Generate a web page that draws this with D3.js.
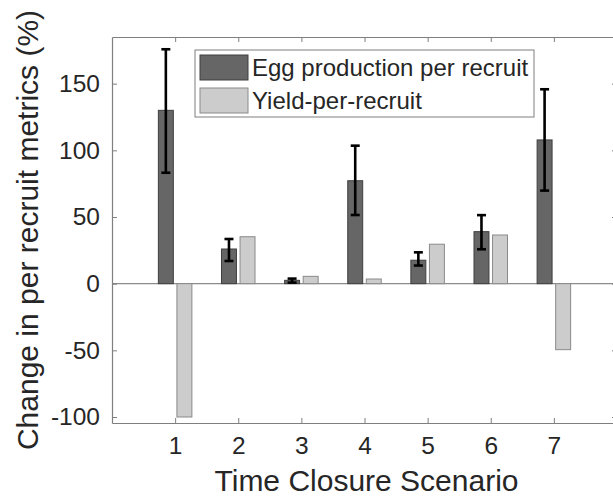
<!DOCTYPE html>
<html>
<head>
<meta charset="utf-8">
<script src="https://cdn.jsdelivr.net/npm/d3@7"></script>
<style>
  html, body { margin: 0; padding: 0; background: #fff; }
  svg { display: block; }
  text { font-family: "Liberation Sans", Arial, Helvetica, sans-serif; fill: #262626; }
</style>
</head>
<body>
<svg id="chart" width="613" height="497"></svg>
<script>
// Per-recruit metric changes for each time-closure scenario (%)
const scenarios = [1, 2, 3, 4, 5, 6, 7];
const eggValues = [130, 26, 2.5, 77.2, 17.6, 39, 107.8];
const eggLow    = [83.2, 17, 0.8, 51.5, 13.6, 25.8, 69.8];
const eggHigh   = [175.8, 33.5, 3.8, 103.5, 23.5, 51.4, 145.8];
const yieldValues = [-100, 35.2, 5.5, 3.5, 29.6, 36.5, -49.5];
const seriesNames = ["Egg production per recruit", "Yield-per-recruit"];
const yTicks = [-100, -50, 0, 50, 100, 150];
const xTicks = [1, 2, 3, 4, 5, 6, 7];

const svg = d3.select("#chart");
const plotLeft = 112, plotRight = 617, plotTop = 37, plotBottom = 423;

const x = d3.scaleLinear().domain([0, 8]).range([plotLeft, plotRight]);
const y = d3.scaleLinear().domain([-104.5, 185]).range([plotBottom, plotTop]);

const axisColor = "#7f7f7f";
const eggFill = "#666666", eggStroke = "#3f3f3f";
const yieldFill = "#cccccc", yieldStroke = "#8a8a8a";

// bar geometry in data units
const barW = 0.237;
const offset = 0.147;

// zero reference line
svg.append("line")
  .attr("x1", plotLeft).attr("x2", plotRight)
  .attr("y1", y(0)).attr("y2", y(0))
  .attr("stroke", "#8c8c8c").attr("stroke-width", 1.2);

const rows = scenarios.map((s, i) => ({
  s, egg: eggValues[i], lo: eggLow[i], hi: eggHigh[i], yld: yieldValues[i]
}));

// egg production bars
svg.append("g").selectAll("rect").data(rows).join("rect")
  .attr("x", d => x(d.s - offset - barW / 2))
  .attr("width", d => x(d.s - offset + barW / 2) - x(d.s - offset - barW / 2))
  .attr("y", d => y(Math.max(0, d.egg)))
  .attr("height", d => Math.abs(y(d.egg) - y(0)))
  .attr("fill", eggFill).attr("stroke", eggStroke).attr("stroke-width", 1);

// yield bars
svg.append("g").selectAll("rect").data(rows).join("rect")
  .attr("x", d => x(d.s + offset - barW / 2))
  .attr("width", d => x(d.s + offset + barW / 2) - x(d.s + offset - barW / 2))
  .attr("y", d => y(Math.max(0, d.yld)))
  .attr("height", d => Math.abs(y(d.yld) - y(0)))
  .attr("fill", yieldFill).attr("stroke", yieldStroke).attr("stroke-width", 1);

// error bars on egg production
const cap = 4.5;
const eb = svg.append("g").attr("stroke", "#000").attr("stroke-width", 2.6);
rows.forEach(d => {
  const cx = x(d.s - offset);
  eb.append("line").attr("x1", cx).attr("x2", cx).attr("y1", y(d.lo)).attr("y2", y(d.hi));
  eb.append("line").attr("x1", cx - cap).attr("x2", cx + cap).attr("y1", y(d.lo)).attr("y2", y(d.lo));
  eb.append("line").attr("x1", cx - cap).attr("x2", cx + cap).attr("y1", y(d.hi)).attr("y2", y(d.hi));
});

// axes box (ticks pointing inward on all four sides)
const tickLen = 5;
const plainNumber = d => String(d);   // keep a plain hyphen for negatives
const bottomAxis = d3.axisBottom(x).tickValues(xTicks).tickSizeInner(-tickLen).tickSizeOuter(0).tickPadding(14).tickFormat(plainNumber);
const topAxis = d3.axisTop(x).tickValues(xTicks).tickSizeInner(-tickLen).tickSizeOuter(0).tickFormat("");
const leftAxis = d3.axisLeft(y).tickValues(yTicks).tickSizeInner(-tickLen).tickSizeOuter(0).tickPadding(12).tickFormat(plainNumber);
const rightAxis = d3.axisRight(y).tickValues(yTicks).tickSizeInner(-tickLen).tickSizeOuter(0).tickFormat("");

function styleAxis(g) {
  g.select(".domain").attr("stroke", axisColor).attr("stroke-width", 1.2);
  g.selectAll(".tick line").attr("stroke", axisColor).attr("stroke-width", 1);
  g.selectAll(".tick text").attr("fill", "#262626")
    .style("font-family", '"Liberation Sans", Arial, sans-serif').style("font-size", "24.5px");
}

svg.append("g").attr("transform", `translate(0,${plotBottom})`).call(bottomAxis).call(styleAxis);
svg.append("g").attr("transform", `translate(0,${plotTop})`).call(topAxis).call(styleAxis);
svg.append("g").attr("transform", `translate(${plotLeft},0)`).call(leftAxis).call(styleAxis);
svg.append("g").attr("transform", `translate(${plotRight},0)`).call(rightAxis).call(styleAxis);

// axis titles
svg.append("text")
  .attr("x", (plotLeft + plotRight) / 2 + 2).attr("y", 491)
  .attr("text-anchor", "middle").style("font-size", "30px")
  .text("Time Closure Scenario");

svg.append("text")
  .attr("transform", `translate(38,${(plotTop + plotBottom) / 2}) rotate(-90)`)
  .attr("text-anchor", "middle").style("font-size", "30px")
  .text("Change in per recruit metrics (%)");

// legend
const lg = svg.append("g");
lg.append("rect").attr("x", 195).attr("y", 50).attr("width", 339).attr("height", 67)
  .attr("fill", "#fff").attr("stroke", axisColor).attr("stroke-width", 1);
const swatches = [
  { fill: eggFill, stroke: eggStroke, y: 55 },
  { fill: yieldFill, stroke: yieldStroke, y: 88 }
];
swatches.forEach((sw, i) => {
  lg.append("rect").attr("x", 200).attr("y", sw.y).attr("width", 48).attr("height", 25)
    .attr("fill", sw.fill).attr("stroke", sw.stroke).attr("stroke-width", 1);
  lg.append("text").attr("x", 252).attr("y", sw.y + 12.5).attr("dy", "0.35em")
    .style("font-size", "24px").text(seriesNames[i]);
});
</script>
</body>
</html>
